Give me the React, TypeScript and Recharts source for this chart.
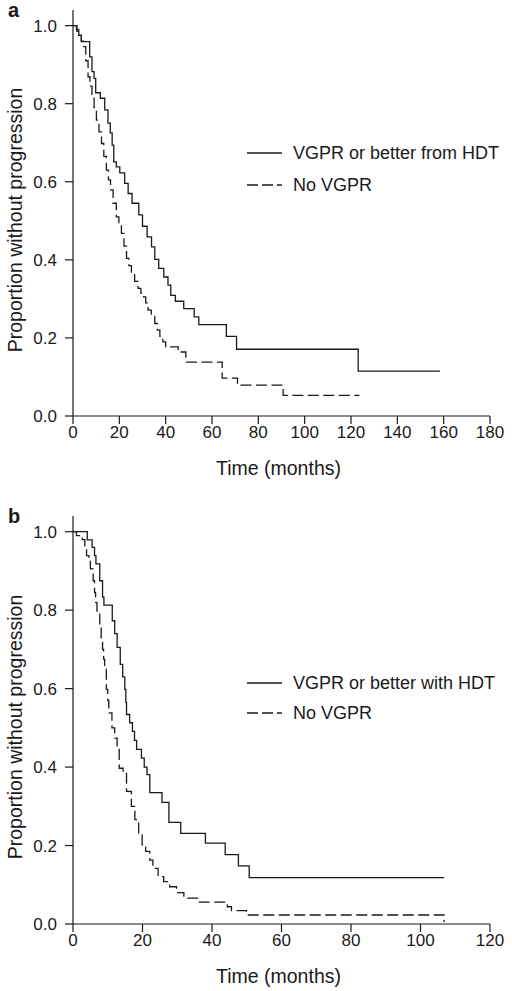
import React from 'react';
import { LineChart, Line, XAxis, YAxis, Label } from 'recharts';

// ---- Data (time in months, proportion without progression) ----
const panelASolid: [number, number][] = [
  [0, 1.0], [1.7, 0.985], [2.5, 0.975], [3.6, 0.959], [7.2, 0.92], [8.2, 0.882], [9.1, 0.865],
  [9.8, 0.828], [11.8, 0.814], [13.7, 0.784], [15.1, 0.75], [16.1, 0.725], [16.9, 0.694],
  [17.6, 0.651], [18.7, 0.638], [20.2, 0.623], [22.3, 0.596], [23.8, 0.57], [25.5, 0.545],
  [28.4, 0.515], [30.0, 0.486], [32.0, 0.459], [33.9, 0.433], [35.3, 0.401], [37.0, 0.378],
  [39.2, 0.356], [41.0, 0.335], [42.2, 0.309], [44.2, 0.294], [47.8, 0.275], [52.3, 0.254],
  [54.3, 0.234], [66.2, 0.204], [70.6, 0.171], [123.1, 0.115], [158.4, 0.115],
];
const panelADashed: [number, number][] = [
  [0, 1.0], [1.5, 0.99], [2.5, 0.975], [3.6, 0.96], [4.6, 0.946], [5.5, 0.91], [6.5, 0.869],
  [7.3, 0.845], [8.2, 0.818], [9.1, 0.79], [10.1, 0.758], [11.2, 0.728], [12.3, 0.698],
  [13.3, 0.665], [14.4, 0.63], [15.3, 0.605], [16.2, 0.579], [17.3, 0.545], [18.7, 0.51],
  [19.8, 0.49], [20.9, 0.468], [22.0, 0.435], [23.1, 0.404], [24.1, 0.385], [25.2, 0.365],
  [26.6, 0.345], [28.1, 0.327], [29.3, 0.315], [30.5, 0.305], [31.4, 0.29], [32.4, 0.271],
  [33.8, 0.255], [35.3, 0.237], [36.4, 0.22], [37.5, 0.204], [38.8, 0.19], [40.0, 0.177],
  [45.4, 0.164], [48.7, 0.138], [64.4, 0.097], [71.0, 0.079], [90.7, 0.053], [123.6, 0.053],
];
const panelBSolid: [number, number][] = [
  [0, 1.0], [4.1, 0.979], [5.5, 0.96], [6.2, 0.939], [6.6, 0.918], [7.7, 0.875], [8.5, 0.833],
  [8.9, 0.813], [11.3, 0.773], [12.0, 0.74], [12.7, 0.705], [13.6, 0.662], [14.3, 0.63],
  [14.9, 0.598], [15.2, 0.565], [15.4, 0.534], [16.3, 0.513], [17.1, 0.491], [17.7, 0.468],
  [18.3, 0.445], [19.7, 0.423], [20.5, 0.4], [21.3, 0.381], [22.1, 0.335], [25.6, 0.31],
  [27.6, 0.259], [31.0, 0.231], [38.1, 0.206], [43.8, 0.177], [47.6, 0.148], [50.7, 0.118],
  [106.8, 0.118],
];
const panelBDashed: [number, number][] = [
  [0, 1.0], [1.0, 0.99], [2.7, 0.98], [3.4, 0.96], [3.9, 0.939], [4.6, 0.926], [5.0, 0.905],
  [5.8, 0.875], [6.2, 0.845], [6.5, 0.82], [6.9, 0.794], [7.7, 0.755], [8.1, 0.73], [8.5, 0.7],
  [8.8, 0.675], [9.1, 0.649], [9.6, 0.598], [10.0, 0.57], [10.3, 0.538], [11.2, 0.5],
  [12.0, 0.474], [12.7, 0.445], [13.3, 0.397], [14.4, 0.384], [15.4, 0.338], [16.8, 0.3],
  [17.8, 0.266], [18.9, 0.227], [19.9, 0.202], [20.9, 0.185], [22.1, 0.163], [23.0, 0.142],
  [24.5, 0.121], [26.1, 0.108], [27.8, 0.095], [29.8, 0.08], [31.9, 0.066], [36.0, 0.056],
  [44.4, 0.044], [45.6, 0.034], [49.9, 0.023], [106.8, 0.023], [106.8, 0.005],
];

const yTicks = [0, 0.2, 0.4, 0.6, 0.8, 1.0];
const xTicksA = [0, 20, 40, 60, 80, 100, 120, 140, 160, 180];
const xTicksB = [0, 20, 40, 60, 80, 100, 120];
const legendA = ['VGPR or better from HDT', 'No VGPR'];
const legendB = ['VGPR or better with HDT', 'No VGPR'];
const yLabel = 'Proportion without progression';
const xLabel = 'Time (months)';

const FONT = "'Liberation Sans', Arial, Helvetica, sans-serif";
const INK = '#1a1a1a';
const DASH = '11 4.5';

const toRows = (arr: [number, number][]) => arr.map(([t, s]) => ({ t, s }));

function LegendBox({ labels, gap, top }: { labels: string[]; gap: number; top: number }) {
  const row = (label: string, dashed: boolean, mt: number) => (
    <div style={{ display: 'flex', alignItems: 'center', height: 20, marginTop: mt }}>
      <svg width={36} height={4} style={{ display: 'block' }}>
        <line x1={0} y1={2} x2={35} y2={2} stroke={INK} strokeWidth={1.3}
          strokeDasharray={dashed ? '11 4' : undefined} />
      </svg>
      <span style={{ marginLeft: 10, whiteSpace: 'nowrap' }}>{label}</span>
    </div>
  );
  return (
    <div style={{ position: 'absolute', left: 247, top, fontFamily: FONT, fontSize: 18, color: INK, lineHeight: '20px' }}>
      {row(labels[0], false, 0)}
      {row(labels[1], true, gap)}
    </div>
  );
}

function Panel({ solid, dashed, xMax, xTicks, margin, height }: any) {
  return (
    <LineChart width={512} height={height} margin={margin}>
      <XAxis type="number" dataKey="t" domain={[0, xMax]} ticks={xTicks} height={60}
        tickSize={8} tickMargin={2} interval={0}
        axisLine={{ stroke: INK, strokeWidth: 1.2 }} tickLine={{ stroke: INK, strokeWidth: 1.2 }}
        tick={{ fill: INK, fontSize: 17, fontFamily: FONT }}>
        <Label content={(p: any) => {
          const vb = p.viewBox || {};
          return (
            <text x={vb.x + vb.width / 2 - 3} y={vb.y + 59} textAnchor="middle"
              fontSize={19.5} fontFamily={FONT} fill={INK}>{xLabel}</text>
          );
        }} />
      </XAxis>
      <YAxis type="number" domain={[0, 1.04]} ticks={yTicks} width={73}
        tickSize={8} tickMargin={8} interval={0}
        tickFormatter={(v: number) => v.toFixed(1)}
        axisLine={{ stroke: INK, strokeWidth: 1.2 }} tickLine={{ stroke: INK, strokeWidth: 1.2 }}
        tick={{ fill: INK, fontSize: 17, fontFamily: FONT }}>
        <Label content={(p: any) => {
          const vb = p.viewBox || {};
          const cy = vb.y + vb.height / 2 + 7;
          return (
            <text x={15} y={cy} transform={`rotate(-90, 15, ${cy})`} textAnchor="middle"
              dominantBaseline="central" fontSize={19.5} fontFamily={FONT} fill={INK}>{yLabel}</text>
          );
        }} />
      </YAxis>
      <Line data={toRows(solid)} dataKey="s" type="stepAfter" stroke={INK} strokeWidth={1.3}
        dot={false} activeDot={false} isAnimationActive={false} />
      <Line data={toRows(dashed)} dataKey="s" type="stepAfter" stroke={INK} strokeWidth={1.3}
        strokeDasharray={DASH} dot={false} activeDot={false} isAnimationActive={false} />
    </LineChart>
  );
}

export default function App() {
  return (
    <div style={{ position: 'absolute', left: 0, top: 0, width: 512, height: 991, background: '#fff' }}>
      <div style={{ position: 'absolute', left: 0, top: 0 }}>
        <Panel solid={panelASolid} dashed={panelADashed} xMax={180} xTicks={xTicksA}
          height={495} margin={{ top: 10, right: 22, left: 0, bottom: 19 }} />
      </div>
      <div style={{ position: 'absolute', left: 0, top: 495 }}>
        <Panel solid={panelBSolid} dashed={panelBDashed} xMax={120} xTicks={xTicksB}
          height={496} margin={{ top: 21, right: 22, left: 0, bottom: 7 }} />
      </div>
      <LegendBox labels={legendA} gap={12} top={143} />
      <LegendBox labels={legendB} gap={10} top={673} />
      <div style={{ position: 'absolute', left: 8, top: 0, fontFamily: FONT, fontWeight: 'bold', fontSize: 20, color: INK, lineHeight: '20px' }}>a</div>
      <div style={{ position: 'absolute', left: 8, top: 506, fontFamily: FONT, fontWeight: 'bold', fontSize: 20, color: INK, lineHeight: '20px' }}>b</div>
    </div>
  );
}
